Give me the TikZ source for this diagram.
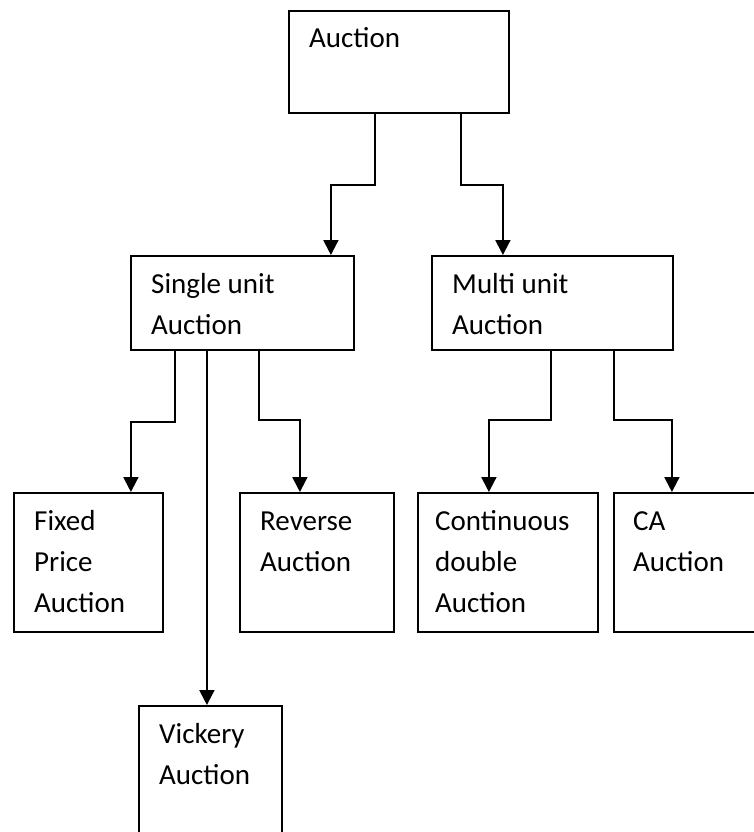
\documentclass[tikz,border=0pt]{standalone}
\usepackage{fontspec}
\setmainfont{Carlito}
\usetikzlibrary{arrows.meta}
\begin{document}
\begin{tikzpicture}[x=1pt,y=-1pt,
  box/.style={draw,line width=1.8pt,inner sep=0pt,anchor=north west},
  lbl/.style={anchor=base west,inner sep=0pt,align=left,font=\fontsize{29}{41}\selectfont},
  arr/.style={line width=2pt,-{Triangle[width=15pt,length=15pt]}}]
\useasboundingbox (0,0) rectangle (753,832);
% boxes
\node[box,minimum width=220pt,minimum height=102pt] (top) at (288,10) {};
\node[box,minimum width=223pt,minimum height=94pt] (single) at (130,255) {};
\node[box,minimum width=241pt,minimum height=94pt] (multi) at (431,255) {};
\node[box,minimum width=149pt,minimum height=139pt] (fixed) at (13,492) {};
\node[box,minimum width=154pt,minimum height=139pt] (reverse) at (239,492) {};
\node[box,minimum width=180pt,minimum height=139pt] (cont) at (417,492) {};
\node[box,minimum width=150pt,minimum height=139pt] (ca) at (613,492) {};
\node[box,minimum width=143pt,minimum height=140pt] (vick) at (138,705) {};
% labels (anchored at the baseline of their last line)
\node[lbl] (ttop) at (309,48) {Auction};
\node[lbl] (tsingle) at (151,334) {Single unit\\Auction};
\node[lbl] (tmulti) at (452,334) {Multi unit\\Auction};
\node[lbl] (tfixed) at (34,612) {Fixed\\Price\\Auction};
\node[lbl] (treverse) at (260,571) {Reverse\\Auction};
\node[lbl] (tcont) at (435,612) {Continuous\\double\\Auction};
\node[lbl] (tca) at (633,571) {CA\\Auction};
\node[lbl] (tvick) at (159,784) {Vickery\\Auction};
% connectors
\draw[arr] ([xshift=-24pt]top.south) -- ++(0,71) -| ([xshift=88.5pt]single.north);
\draw[arr] ([xshift=62pt]top.south) -- ++(0,71) -| ([xshift=-49.5pt]multi.north);
\draw[arr] ([xshift=-67.5pt]single.south) -- ++(0,71) -| ([xshift=42.5pt]fixed.north);
\draw[arr] ([xshift=-35.5pt]single.south) -- ([xshift=-3.5pt]vick.north);
\draw[arr] ([xshift=16.5pt]single.south) -- ++(0,69) -| ([xshift=-17pt]reverse.north);
\draw[arr] ([xshift=-1.5pt]multi.south) -- ++(0,69) -| ([xshift=-19pt]cont.north);
\draw[arr] ([xshift=61.5pt]multi.south) -- ++(0,69) -| ([xshift=-17pt]ca.north);
\end{tikzpicture}
\end{document}
